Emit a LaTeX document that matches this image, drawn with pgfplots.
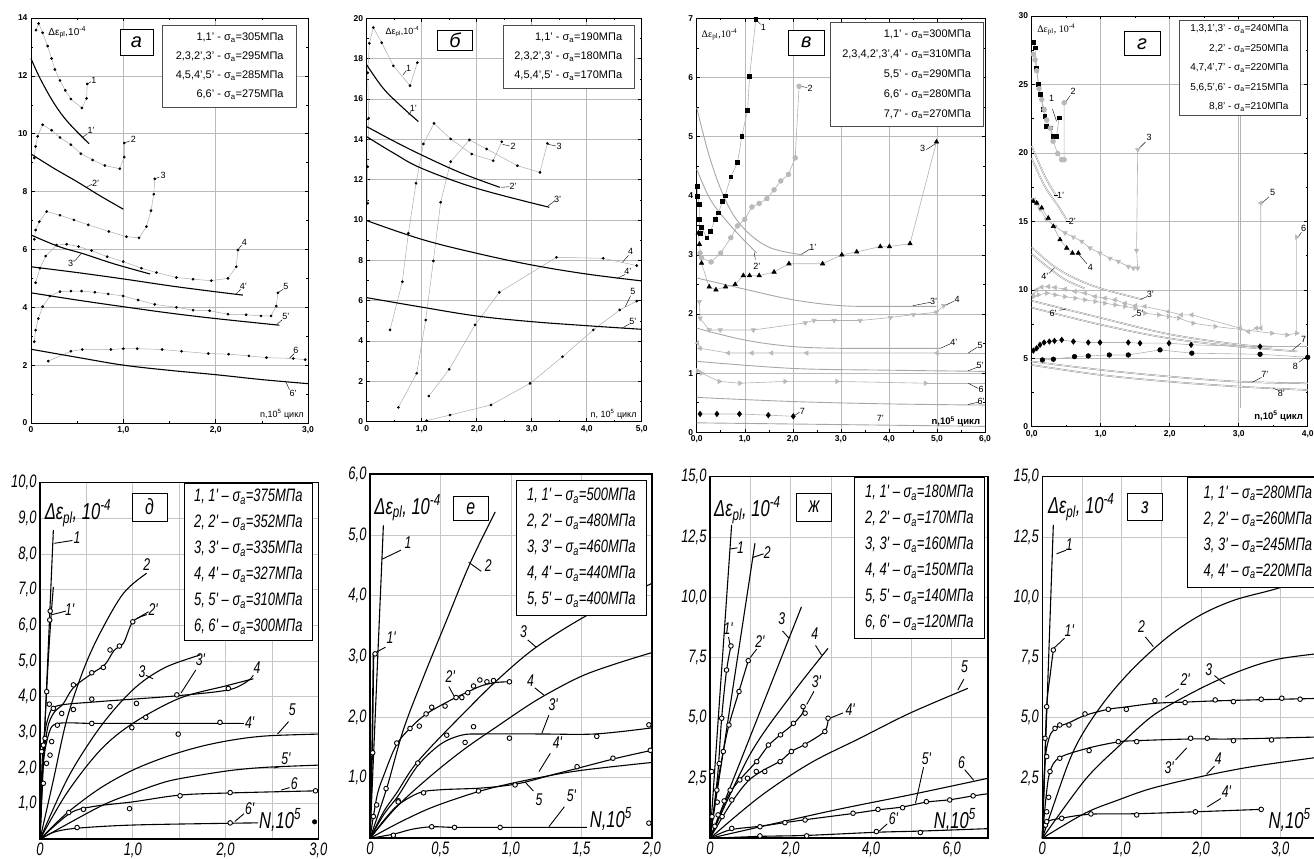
\documentclass[border=0pt]{standalone}
\usepackage{fontspec}
\setmainfont{Liberation Sans}
\newfontfamily\serf{Liberation Serif}
\newfontfamily\gost[FakeStretch=0.72]{Liberation Sans}
\usepackage{pgfplots}
\pgfplotsset{compat=1.18}
\newcommand\tfont{\fontsize{9}{10}\selectfont}
\newcommand\gfont{\gost\itshape\fontsize{18}{20}\selectfont}
\newcommand\glab{\gost\itshape\fontsize{17}{18}\selectfont}
\newcommand\gbig{\gost\itshape\fontsize{23}{25}\selectfont}
\newcommand\sa{σ\textsubscript{a}}
\newcommand\tl[3]{\node[font=\tfont,inner sep=1pt] at (axis cs:#1,#2) {#3};}
\newcommand\bl[3]{\node[font=\glab,inner sep=1pt] at (axis cs:#1,#2) {#3};}
\newcommand\ld[4]{\draw[line width=0.4pt] (axis cs:#1,#2) -- (axis cs:#3,#4);}
\newcommand\bd[4]{\draw[line width=0.9pt] (axis cs:#1,#2) -- (axis cs:#3,#4);}
\pgfplotsset{
 topax/.style={scale only axis, anchor=south west, clip=false,
   axis line style={line width=0.6pt},
   grid=major, major grid style={gray!55,line width=0.5pt},
   tick align=inside, major tick length=3.5pt, minor tick length=2pt,
   every tick/.style={black,line width=0.5pt},
   ticklabel style={font=\fontsize{8.5}{10}\selectfont\bfseries}},
 dl/.style={gray!65, line width=0.5pt, mark=*, mark size=1.1pt, mark options={black,solid}},
 fl/.style={black, line width=1.1pt, smooth, tension=0.6, no markers},
 gl/.style={gray!90, line width=0.45pt, double=white, double distance=0.6pt, smooth, tension=0.6, no markers},
 sl/.style={gray!70, line width=0.9pt, smooth, tension=0.6, no markers},
 cl/.style={gray!60, line width=0.6pt},
 msq/.style={cl, mark=square*, mark size=1.9pt, mark options={black,solid}},
 mci/.style={cl, mark=*, mark size=2.4pt, mark options={fill=gray!55,draw=gray!55,solid}},
 mtu/.style={cl, mark=triangle*, mark size=2.5pt, mark options={black,solid}},
 mtd/.style={cl, mark=triangle*, mark size=2.5pt, mark options={fill=gray!55,draw=gray!55,rotate=180,solid}},
 mtl/.style={cl, mark=triangle*, mark size=2.5pt, mark options={fill=gray!55,draw=gray!55,rotate=90,solid}},
 mtr/.style={cl, mark=triangle*, mark size=2.5pt, mark options={fill=gray!55,draw=gray!55,rotate=-90,solid}},
 mdm/.style={cl, mark=diamond*, mark size=2.7pt, mark options={black,solid}},
 mhx/.style={cl, mark=*, mark size=2.3pt, mark options={black,solid}},
 botax/.style={scale only axis, anchor=south west, clip=false,
   axis line style={line width=1.6pt},
   grid=both, major grid style={gray!45,line width=0.7pt}, minor grid style={gray!45,line width=0.7pt},
   major tick length=0pt, minor tick length=0pt,
   ticklabel style={font=\gfont}},
 bk/.style={black, line width=1.1pt, smooth, tension=0.55, no markers},
 oc/.style={only marks, mark=*, mark size=2.3pt, mark options={fill=white,draw=black,line width=0.9pt}},
}
\begin{document}
\begin{tikzpicture}
%================ а
\begin{axis}[topax, at={(31pt,436pt)}, width=277pt, height=405pt,
  xmin=0,xmax=3,ymin=0,ymax=14, xtick={0,1,2,3}, xticklabels={0,{1,0},{2,0},{3,0}},
  ytick={0,2,4,6,8,10,12,14}, yticklabels={0,2,4,6,8,10,12,14}, minor x tick num=1, minor y tick num=1]
\addplot[dl] coordinates {(0.054,13.58)(0.083,13.81)(0.126,13.49)(0.18,13.03)(0.223,12.6)(0.259,12.22)(0.314,11.84)(0.371,11.5)(0.432,11.2)(0.551,10.89)(0.602,11.22)(0.609,11.72)};
\addplot[fl] coordinates {(0,12.6)(0.1,11.9)(0.25,11.05)(0.4,10.4)(0.63,9.65)};
\addplot[dl] coordinates {(0.036,9.16)(0.05,9.56)(0.072,9.91)(0.126,10.31)(0.223,10.12)(0.314,9.87)(0.432,9.62)(0.54,9.31)(0.667,9.09)(0.8,8.9)(0.962,8.79)(1.01,9.19)(1.01,9.68)};
\addplot[fl] coordinates {(0,9.3)(0.25,8.8)(0.494,8.35)(0.75,7.85)(1.0,7.39)};
\addplot[dl] coordinates {(0.036,6.35)(0.05,6.67)(0.09,6.96)(0.17,7.31)(0.314,7.18)(0.465,7.02)(0.62,6.85)(0.843,6.62)(1.034,6.44)(1.17,6.4)(1.25,6.79)(1.30,7.34)(1.33,7.91)(1.34,8.44)};
\addplot[fl] coordinates {(0,6.5)(0.3,6.1)(0.566,5.85)(0.9,5.5)(1.29,5.15)};
\addplot[dl] coordinates {(0.05,4.85)(0.097,5.35)(0.159,5.77)(0.277,6.15)(0.386,6.18)(0.515,6.1)(0.656,5.96)(0.825,5.75)(0.998,5.58)(1.196,5.35)(1.359,5.2)(1.575,5.03)(1.755,4.97)(1.953,4.92)(2.133,5.0)(2.223,5.4)(2.241,5.98)};
\addplot[fl] coordinates {(0,5.4)(0.5,5.2)(1.0,4.98)(1.6,4.7)(2.295,4.42)};
\addplot[dl] coordinates {(0.036,2.81)(0.05,3.21)(0.079,3.61)(0.126,4.02)(0.205,4.39)(0.314,4.54)(0.432,4.56)(0.548,4.56)(0.692,4.52)(0.836,4.46)(0.998,4.39)(1.16,4.25)(1.34,4.1)(1.575,4.0)(1.755,3.9)(1.935,3.88)(2.133,3.76)(2.33,3.74)(2.49,3.7)(2.60,3.7)(2.656,4.04)(2.674,4.5)};
\addplot[fl] coordinates {(0,4.5)(0.5,4.25)(1.0,4.02)(1.5,3.8)(2.0,3.61)(2.69,3.38)};
\addplot[dl] coordinates {(0.187,2.14)(0.432,2.48)(0.555,2.54)(0.865,2.54)(1.0,2.57)(1.15,2.57)(1.42,2.54)(1.63,2.48)(1.92,2.4)(2.14,2.38)(2.36,2.32)(2.55,2.26)(2.84,2.23)(2.97,2.19)};
\addplot[fl] coordinates {(0,2.55)(0.5,2.27)(1.0,2.0)(1.5,1.82)(2.0,1.67)(2.5,1.5)(3.0,1.36)};
\tl{0.68}{11.85}{1}\ld{0.61}{11.72}{0.65}{11.8}
\tl{0.65}{10.1}{1'}\ld{0.55}{9.85}{0.61}{10.0}
\tl{1.11}{9.8}{2}\ld{1.01}{9.68}{1.07}{9.75}
\tl{0.7}{8.3}{2'}\ld{0.6}{8.15}{0.66}{8.25}
\tl{1.43}{8.55}{3}\ld{1.34}{8.44}{1.39}{8.5}
\tl{0.44}{5.5}{3'}\ld{0.48}{5.62}{0.55}{5.88}
\tl{2.31}{6.25}{4}\ld{2.241}{5.98}{2.28}{6.15}
\tl{2.3}{4.72}{4'}\ld{2.22}{4.45}{2.27}{4.62}
\tl{2.76}{4.72}{5}\ld{2.674}{4.5}{2.73}{4.62}
\tl{2.76}{3.67}{5'}\ld{2.66}{3.4}{2.72}{3.57}
\tl{2.87}{2.52}{6}\ld{2.8}{2.24}{2.85}{2.4}
\tl{2.84}{1.04}{6'}\ld{2.76}{1.42}{2.8}{1.15}
\node[anchor=west,font=\fontsize{10}{10}\selectfont] at (axis cs:0.15,13.5) {Δε\textsubscript{pl},10\textsuperscript{-4}};
\node[anchor=east,font=\fontsize{9}{9}\selectfont] at (axis cs:2.99,0.3) {n,10\textsuperscript{5} цикл};
\node[draw,fill=white,line width=0.6pt,minimum width=33pt,minimum height=26pt,inner sep=0pt,font=\fontsize{20}{20}\selectfont\itshape] at (axis cs:1.143,13.17) {а};
\node[draw=gray!60!black,fill=white,line width=0.5pt,anchor=north east,minimum width=134pt,minimum height=82pt,inner sep=3pt,align=right,font=\fontsize{11}{19}\selectfont] at (axis cs:2.88,13.76) {1,1' - \sa=305МПа\\2,3,2',3' - \sa=295МПа\\4,5,4',5' - \sa=285МПа\\6,6' - \sa=275МПа};
\end{axis}
%================ б
\begin{axis}[topax, at={(366.7pt,437.3pt)}, width=275pt, height=403.4pt,
  xmin=0,xmax=5,ymin=0,ymax=20, xtick={0,1,2,3,4,5}, xticklabels={0,{1,0},{2,0},{3,0},{4,0},{5,0}},
  ytick={0,2,4,6,8,10,12,14,16,18,20}, yticklabels={0,2,4,6,8,10,12,14,16,18,20}, minor x tick num=1, minor y tick num=1]
\addplot[dl] coordinates {(0.018,10.83)(0.018,12.64)(0.036,15.04)(0.018,17.3)(0.048,18.76)(0.121,19.54)(0.273,18.79)(0.485,17.64)(0.788,16.66)(0.921,17.8)};
\addplot[fl] coordinates {(0,17.69)(0.3,16.53)(0.636,15.62)(0.94,14.88)};
\addplot[dl] coordinates {(0.424,4.55)(0.648,6.94)(0.758,9.34)(0.897,11.82)(1.03,13.77)(1.224,14.79)(1.527,14.02)(1.909,13.27)(2.3,12.94)(2.455,13.88)};
\addplot[dl] coordinates {(0.576,0.71)(0.909,2.4)(1.073,5.04)(1.212,7.97)(1.345,10.88)(1.527,12.89)(1.867,13.97)(2.18,13.52)(2.74,12.69)(3.15,12.36)(3.285,13.8)};
\addplot[fl] coordinates {(0,14.63)(0.5,13.9)(1,13.22)(1.7,12.35)(2.42,11.62)};
\addplot[fl] coordinates {(0,14.13)(0.5,13.3)(1,12.56)(2,11.57)(3.32,10.63)};
\addplot[dl] coordinates {(1.13,1.27)(1.5,2.6)(1.97,4.8)(2.41,6.41)(3.45,8.15)(4.3,8.1)(4.91,7.74)};
\addplot[dl] coordinates {(1.09,0.05)(1.515,0.33)(2.26,0.83)(2.97,1.9)(3.56,3.22)(4.12,4.55)(4.6,5.54)(4.91,5.98)};
\addplot[fl] coordinates {(0,9.97)(1,9.04)(2,8.35)(3,7.77)(4,7.32)(5,6.98)};
\addplot[fl] coordinates {(0,6.15)(1,5.68)(2,5.24)(3,4.96)(4,4.76)(5,4.58)};
\tl{0.76}{17.5}{1}\ld{0.66}{17.2}{0.72}{17.4}
\tl{0.85}{15.55}{1'}\ld{0.76}{15.2}{0.81}{15.4}
\tl{2.66}{13.67}{2}\ld{2.47}{13.75}{2.6}{13.67}
\tl{2.66}{11.65}{2'}\ld{2.44}{11.62}{2.6}{11.65}
\tl{3.5}{13.67}{3}\ld{3.3}{13.75}{3.44}{13.67}
\tl{3.47}{11.0}{3'}\ld{3.3}{10.7}{3.42}{10.95}
\tl{4.8}{8.45}{4}\ld{4.65}{7.9}{4.76}{8.25}
\tl{4.75}{7.45}{4'}\ld{4.55}{7.1}{4.7}{7.3}
\tl{4.84}{6.45}{5}\ld{4.7}{5.7}{4.8}{6.25}
\tl{4.84}{4.98}{5'}\ld{4.65}{4.65}{4.78}{4.85}
\node[anchor=west,font=\fontsize{9}{9}\selectfont] at (axis cs:0.28,19.35) {Δε\textsubscript{pl},10\textsuperscript{-4}};
\node[anchor=east,font=\fontsize{9}{9}\selectfont] at (axis cs:4.97,0.35) {n, 10\textsuperscript{5} цикл};
\node[draw,fill=white,line width=0.6pt,minimum width=35pt,minimum height=20pt,inner sep=0pt,font=\fontsize{20}{20}\selectfont\itshape] at (axis cs:1.605,18.92) {б};
\node[draw=gray!60!black,fill=white,line width=0.5pt,anchor=north east,minimum width=131pt,minimum height=63pt,inner sep=3pt,align=right,font=\fontsize{11}{19}\selectfont] at (axis cs:4.86,19.67) {1,1' - \sa=190МПа\\2,3,2',3' - \sa=180МПа\\4,5,4',5' - \sa=170МПа};
\end{axis}
%================ в
\begin{axis}[topax, at={(696.7pt,426.7pt)}, width=288.3pt, height=414pt,
  xmin=0,xmax=6,ymin=0,ymax=7, xtick={0,1,2,3,4,5,6}, xticklabels={{0,0},{1,0},{2,0},{3,0},{4,0},{5,0},{6,0}},
  ytick={0,1,2,3,4,5,6,7}, yticklabels={0,1,2,3,4,5,6,7}, minor x tick num=1, minor y tick num=1]
\addplot[sl] coordinates {(0,5.49)(0.28,4.62)(0.625,3.88)(1.0,3.43)(1.53,3.12)(2.22,3.0)};
\addplot[sl] coordinates {(0,4.45)(0.28,3.94)(0.625,3.57)(0.97,3.26)(1.25,3.03)};
\addplot[sl] coordinates {(0,2.61)(1,2.42)(2.01,2.24)(3.02,2.14)(4.03,2.13)(4.99,2.13)};
\addplot[sl] coordinates {(0,1.76)(1,1.56)(2,1.45)(3,1.42)(4,1.42)(5.07,1.42)};
\addplot[sl] coordinates {(0,1.2)(2,1.08)(4,1.05)(6,1.03)};
\addplot[sl] coordinates {(0,0.59)(2,0.52)(4,0.48)(6,0.46)};
\addplot[sl] coordinates {(0,0.16)(2,0.14)(4,0.12)(6,0.1)};
\addplot[msq] coordinates {(0.02,4.16)(0.02,3.99)(0.056,3.85)(0.056,3.6)(0.07,3.37)(0.1,3.46)(0.21,3.29)(0.29,3.4)(0.38,3.6)(0.45,3.71)(0.54,3.91)(0.59,4.0)(0.71,4.32)(0.85,4.56)(0.94,5.01)(1.06,5.45)(1.1,6.02)(1.23,6.98)};
\addplot[mci] coordinates {(0.07,3.03)(0.1,2.95)(0.3,2.88)(0.5,3.03)(0.71,3.29)(0.85,3.49)(1.0,3.6)(1.15,3.81)(1.3,3.87)(1.46,3.95)(1.61,4.1)(1.75,4.25)(1.91,4.36)(2.05,4.64)(2.13,5.85)};
\addplot[mtu] coordinates {(0.035,3.37)(0.056,3.18)(0.1,2.86)(0.26,2.46)(0.4,2.41)(0.6,2.46)(0.8,2.5)(0.97,2.65)(1.1,2.65)(1.3,2.65)(1.61,2.71)(1.92,2.85)(2.62,2.85)(3.02,3.0)(3.33,3.05)(3.82,3.14)(4.01,3.14)(4.44,3.19)(4.99,4.91)};
\addplot[mtd] coordinates {(0.056,2.21)(0.07,1.93)(0.26,1.73)(0.49,1.73)(1.18,1.73)(2.26,1.85)(2.44,1.89)(2.86,1.89)(3.4,1.89)(4.03,1.94)(4.51,1.99)(4.99,2.03)(5.14,2.14)};
\addplot[cl] coordinates {(5.0,1.34)(6,1.34)};
\addplot[mtl] coordinates {(0.02,1.51)(0.07,1.42)(0.66,1.34)(1.15,1.34)(1.56,1.34)(2.29,1.34)(5.0,1.34)};
\addplot[cl] coordinates {(4.76,0.83)(6,0.83)};
\addplot[mtr] coordinates {(0.02,1.04)(0.1,1.0)(0.47,0.86)(0.9,0.83)(1.84,0.86)(2.92,0.86)(4.76,0.83)};
\addplot[mdm] coordinates {(0.07,0.31)(0.42,0.31)(0.89,0.31)(1.49,0.29)(2.01,0.27)};
\tl{1.39}{6.85}{1}\ld{1.23}{6.98}{1.33}{6.9}
\tl{2.36}{5.82}{2}\ld{2.15}{5.85}{2.3}{5.83}
\tl{4.7}{4.8}{3}\ld{4.78}{4.78}{4.97}{4.88}
\tl{2.42}{3.12}{1'}\ld{2.2}{3.02}{2.36}{3.1}
\tl{1.25}{2.8}{2'}\ld{1.22}{2.92}{1.2}{3.04}
\tl{4.93}{2.21}{3'}\ld{4.5}{2.14}{4.87}{2.2}
\tl{5.42}{2.24}{4}\ld{5.16}{2.14}{5.36}{2.22}
\tl{5.35}{1.52}{4'}\ld{5.07}{1.42}{5.29}{1.5}
\tl{5.9}{1.46}{5}\ld{5.65}{1.34}{5.84}{1.44}
\tl{5.9}{1.13}{5'}\ld{5.65}{1.04}{5.84}{1.1}
\tl{5.92}{0.72}{6}\ld{5.65}{0.83}{5.86}{0.74}
\tl{5.92}{0.52}{6'}\ld{5.65}{0.47}{5.86}{0.51}
\tl{2.2}{0.36}{7}\ld{2.03}{0.28}{2.14}{0.34}
\tl{3.82}{0.24}{7'}
\node[anchor=west,font=\serf\fontsize{10}{10}\selectfont] at (axis cs:0.03,6.72) {Δε\textsubscript{pl},10\textsuperscript{-4}};
\node[anchor=east,font=\fontsize{9.5}{9.5}\selectfont\bfseries] at (axis cs:5.97,0.18) {n,10\textsuperscript{5} цикл};
\node[draw,fill=white,line width=0.6pt,minimum width=36pt,minimum height=25pt,inner sep=0pt,font=\fontsize{20}{20}\selectfont\itshape] at (axis cs:2.28,6.59) {в};
\node[draw=gray!60!black,fill=white,line width=0.5pt,anchor=north east,minimum width=153pt,minimum height=104pt,inner sep=3pt,align=right,font=\fontsize{11}{20}\selectfont] at (axis cs:5.965,6.94) {1,1' - \sa=300МПа\\2,3,4,2',3',4' - \sa=310МПа\\5,5' - \sa=290МПа\\6,6' - \sa=280МПа\\7,7' - \sa=270МПа};
\end{axis}
%================ г
\begin{axis}[topax, at={(1031.7pt,432.3pt)}, width=276pt, height=410.7pt,
  xmin=0,xmax=4,ymin=0,ymax=30, xtick={0,1,2,3,4}, xticklabels={{0,0},{1,0},{2,0},{3,0},{4,0}},
  ytick={0,5,10,15,20,25,30}, yticklabels={0,5,10,15,20,25,30}, minor x tick num=1, minor y tick num=1]
\addplot[cl, line width=0.5pt] coordinates {(3.02,22.77)(3.02,1.4)};
\addplot[gl] coordinates {(0,20.5)(0.19,18.3)(0.36,16.83)};
\addplot[gl] coordinates {(0,19.6)(0.19,17.56)(0.386,16.1)(0.507,15.1)};
\addplot[gl] coordinates {(0,13.1)(0.3,11.8)(0.6,10.9)(1.0,10.1)(1.6,9.3)};
\addplot[gl] coordinates {(0,12.6)(0.3,11.4)(0.5,10.7)(0.77,10.1)};
\addplot[gl] coordinates {(0,9.2)(1,7.95)(2,6.75)(3,6.0)(3.48,5.85)};
\addplot[gl] coordinates {(0,8.7)(1,7.45)(2,6.45)(3,5.85)(3.85,5.5)};
\addplot[gl] coordinates {(0,4.76)(1,4.15)(2,3.66)(3,3.29)(4,3.17)};
\addplot[gl] coordinates {(0,4.51)(1,3.78)(2,3.29)(3,2.93)(4,2.68)};
\addplot[msq] coordinates {(0.024,28.05)(0.048,27.68)(0.072,26.2)(0.097,25.0)(0.12,24.27)(0.17,23.17)(0.19,22.68)(0.217,21.95)(0.266,21.83)(0.314,21.2)(0.36,21.2)(0.396,22.56)};
\addplot[mci] coordinates {(0.024,27.2)(0.048,26.8)(0.072,26.0)(0.106,24.7)(0.145,23.9)(0.18,23.17)(0.217,22.4)(0.27,21.8)(0.31,20.85)(0.377,19.95)(0.435,19.5)(0.47,19.5)(0.47,23.66)};
\addplot[mtd] coordinates {(0.024,16.6)(0.072,16.34)(0.12,15.9)(0.217,15.12)(0.338,14.63)(0.483,14.15)(0.604,13.85)(0.725,13.54)(0.845,13.05)(0.99,12.68)(1.135,12.3)(1.256,12.07)(1.4,11.7)(1.473,11.58)(1.536,11.58)(1.52,12.88)(1.536,20.24)};
\addplot[mtu] coordinates {(0.024,16.46)(0.072,16.34)(0.145,15.98)(0.24,15.24)(0.314,14.63)(0.41,13.66)(0.507,13.05)(0.59,12.68)(0.676,12.68)};
\addplot[mtl] coordinates {(0.024,9.63)(0.072,10.0)(0.145,10.2)(0.24,10.24)(0.338,10.17)(0.483,10.05)(0.628,9.88)(0.773,9.76)(0.918,9.51)(1.063,9.39)(1.208,9.27)(1.353,9.02)(1.5,8.83)(1.64,8.78)(1.98,8.41)(2.17,8.17)(2.32,8.17)(3.02,7.2)(3.14,6.95)(3.26,7.2)(3.32,7.2)(3.32,16.34)};
\addplot[mtr] coordinates {(0.024,9.5)(0.097,9.63)(0.217,9.76)(0.34,9.63)(0.48,9.5)(0.63,9.39)(0.77,9.27)(0.92,9.15)(1.06,9.02)(1.21,8.9)(1.35,8.78)(1.5,8.66)(1.64,8.29)(1.84,8.17)(1.98,8.05)(2.13,7.93)(2.34,7.56)(2.66,7.32)(3.48,6.83)(3.7,6.7)(3.84,6.83)(3.84,13.85)};
\addplot[cl] coordinates {(3.31,5.85)(4.0,5.85)};
\addplot[mdm] coordinates {(0.024,5.56)(0.072,5.73)(0.12,5.98)(0.18,6.15)(0.256,6.22)(0.33,6.27)(0.435,6.34)(0.604,6.22)(0.82,6.15)(0.99,6.15)(1.4,6.15)(1.57,6.1)(1.99,6.1)(2.31,5.98)(3.31,5.85)};
\addplot[mhx] coordinates {(0.155,4.88)(0.314,4.93)(0.62,5.12)(0.82,5.17)(1.125,5.24)(1.4,5.24)(1.86,5.61)(2.32,5.37)(3.31,5.29)(4.0,5.07)};
\tl{0.29}{24.0}{1}\ld{0.3}{23.2}{0.36}{22.3}
\tl{0.6}{24.5}{2}\ld{0.49}{23.7}{0.56}{24.2}
\tl{0.42}{16.9}{1'}\ld{0.33}{16.9}{0.38}{16.9}
\tl{0.59}{15.0}{2'}\ld{0.5}{15.0}{0.55}{15.0}
\tl{1.7}{21.1}{3}\ld{1.55}{20.3}{1.65}{20.8}
\tl{0.85}{11.6}{4}\ld{0.68}{12.6}{0.8}{11.9}
\tl{1.72}{9.63}{3'}\ld{1.58}{9.3}{1.67}{9.5}
\tl{0.19}{10.95}{4'}\ld{0.25}{11.2}{0.33}{11.6}
\tl{3.49}{17.1}{5}\ld{3.34}{16.34}{3.44}{16.8}
\tl{3.94}{14.5}{6}\ld{3.86}{13.85}{3.91}{14.2}
\tl{1.57}{8.3}{5'}\ld{1.45}{8.0}{1.52}{8.2}
\tl{0.31}{8.3}{6'}\ld{0.4}{8.5}{0.5}{8.6}
\tl{3.94}{6.35}{7}\ld{3.78}{5.6}{3.9}{6.1}
\tl{3.82}{4.4}{8}\ld{3.95}{5.0}{3.87}{4.7}
\tl{3.38}{3.8}{7'}\ld{3.2}{3.25}{3.33}{3.6}
\tl{3.62}{2.45}{8'}\ld{3.5}{2.8}{3.58}{2.65}
\node[anchor=west,font=\serf\fontsize{10}{10}\selectfont] at (axis cs:0.03,29.0) {Δε\textsubscript{pl}, 10\textsuperscript{-4}};
\node[anchor=east,font=\fontsize{9.5}{9.5}\selectfont\bfseries] at (axis cs:3.98,0.75) {n,10\textsuperscript{5} цикл};
\node[draw,fill=white,line width=0.6pt,minimum width=36pt,minimum height=24pt,inner sep=0pt,font=\fontsize{20}{20}\selectfont\itshape] at (axis cs:1.6,27.97) {г};
\node[draw=gray!60!black,fill=white,line width=0.5pt,anchor=north east,minimum width=121pt,minimum height=95pt,inner sep=2pt,align=right,font=\fontsize{10}{19.5}\selectfont] at (axis cs:3.89,29.7) {1,3,1',3' - \sa=240МПа\\2,2' - \sa=250МПа\\4,7,4',7' - \sa=220МПа\\5,6,5',6' - \sa=215МПа\\8,8' - \sa=210МПа};
\end{axis}
%================ д
\begin{axis}[botax, at={(40pt,19.7pt)}, width=278.3pt, height=356.6pt,
  xmin=0,xmax=3,ymin=0,ymax=10, xtick={0,1,2,3}, xticklabels={0,{1,0},{2,0},{3,0}}, minor xtick={0.5,1.5,2.5},
  ytick={1,2,3,4,5,6,7,8,9,10}, yticklabels={{1,0},{2,0},{3,0},{4,0},{5,0},{6,0},{7,0},{8,0},{9,0},{10,0}}]
\addplot[bk] coordinates {(0,0)(0.144,8.67)};
\addplot[bk] coordinates {(0,0)(0.04,2.5)(0.08,4.6)(0.115,6.1)(0.144,7.08)};
\addplot[bk] coordinates {(0,0)(0.144,1.66)(0.288,3.35)(0.468,4.75)(0.647,5.78)(0.9,6.9)(1.15,7.46)};
\addplot[bk] coordinates {(0,0)(0.03,2.0)(0.08,3.1)(0.15,3.55)(0.25,3.8)(0.36,4.25)(0.56,4.65)(0.7,4.9)(0.8,5.3)(0.9,5.5)(1.0,6.1)(1.15,6.3)};
\addplot[bk] coordinates {(0,0)(0.288,1.66)(0.576,2.88)(0.827,3.72)(1.08,4.37)(1.367,4.84)(1.727,5.17)};
\addplot[bk] coordinates {(0,0)(0.29,1.3)(0.65,2.5)(1.0,3.25)(1.5,3.95)(2.0,4.3)(2.3,4.5)};
\addplot[bk] coordinates {(0,0)(0.03,2.5)(0.1,3.5)(0.2,3.75)(0.58,3.85)(1.0,3.93)(1.5,4.03)(2.05,4.2)(2.27,4.5)};
\addplot[bk] coordinates {(0,0)(0.03,2.0)(0.1,3.0)(0.2,3.25)(0.558,3.25)(1.0,3.25)(1.94,3.25)(2.16,3.25)};
\addplot[bk] coordinates {(0,0)(0.288,0.73)(0.647,1.43)(1.0,1.94)(1.367,2.32)(1.727,2.6)(2.087,2.79)(2.446,2.9)(3.0,2.95)};
\addplot[bk] coordinates {(0,0)(0.647,0.92)(1.0,1.29)(1.367,1.62)(1.727,1.8)(2.087,1.94)(2.446,2.02)(3.0,2.08)};
\addplot[bk] coordinates {(0,0)(0.324,0.73)(0.576,0.92)(1.0,1.05)(1.51,1.24)(2.05,1.3)(3.0,1.36)};
\addplot[bk] coordinates {(0,0)(0.15,0.2)(0.396,0.31)(1.0,0.4)(2.05,0.45)(2.35,0.46)};
\addplot[oc] coordinates {(0.105,6.15)(0.11,6.4)(0.144,3.67)(0.234,3.53)(0.36,4.33)(0.558,4.67)(0.683,4.82)(0.755,5.31)(0.856,5.42)(1.0,6.1)
 (0.36,3.64)(0.558,3.93)(0.755,3.72)(1.04,3.81)(1.475,4.05)(2.03,4.23)(0.99,3.13)(1.14,3.42)(1.49,2.95)(0.558,3.25)(1.94,3.28)
 (0.31,0.75)(0.468,0.84)(0.965,0.86)(1.51,1.22)(2.05,1.31)(2.97,1.36)(0.4,0.33)(2.05,0.46)
 (0.018,2.46)(0.036,2.64)(0.054,2.83)(0.036,1.57)(0.07,2.13)(0.108,2.36)(0.126,2.74)(0.072,4.14)(0.1,3.79)(0.187,3.2)};
\addplot[only marks, mark=*, mark size=2.3pt, black] coordinates {(2.96,0.49)};
\bl{0.4}{8.45}{1}\bd{0.155}{8.3}{0.35}{8.38}
\bl{0.32}{6.45}{1'}\bd{0.13}{6.3}{0.28}{6.4}
\bl{1.15}{7.7}{2}
\bl{1.22}{6.45}{2'}\bd{1.05}{6.2}{1.17}{6.38}
\bl{1.1}{4.7}{3}\bd{1.14}{4.6}{1.22}{4.5}
\bl{1.73}{5.05}{3'}\bd{1.52}{4.1}{1.68}{4.75}
\bl{2.34}{4.8}{4}\bd{2.27}{4.5}{2.3}{4.6}
\bl{2.26}{3.27}{4'}\bd{2.16}{3.25}{2.2}{3.25}
\bl{2.72}{3.62}{5}\bd{2.56}{2.95}{2.68}{3.3}
\bl{2.65}{2.25}{5'}\bd{2.52}{2.0}{2.61}{2.05}
\bl{2.74}{1.55}{6}\bd{2.6}{1.38}{2.69}{1.45}
\bl{2.26}{0.85}{6'}\bd{2.1}{0.5}{2.2}{0.72}
\node[anchor=west,font=\gbig,inner sep=0pt] at (axis cs:2.36,0.55) {N,10\textsuperscript{5}};
\node[anchor=west,font=\gbig,inner sep=0pt] at (axis cs:0.05,9.15) {Δε\textsubscript{pl}, 10\textsuperscript{-4}};
\node[draw,fill=white,line width=0.7pt,minimum width=35pt,minimum height=28pt,inner sep=0pt,font=\gost\itshape\fontsize{22}{22}\selectfont] at (axis cs:1.18,9.32) {д};
\node[draw,fill=white,line width=0.9pt,anchor=north east,minimum width=128pt,minimum height=157pt,inner sep=3pt,align=left,font=\gost\itshape\fontsize{18}{26}\selectfont] at (axis cs:2.94,9.99) {1, 1' – \sa=375МПа\\2, 2' – \sa=352МПа\\3, 3' – \sa=335МПа\\4, 4' – \sa=327МПа\\5, 5' – \sa=310МПа\\6, 6' – \sa=300МПа};
\end{axis}
%================ е
\begin{axis}[botax, at={(370pt,20.7pt)}, width=281.7pt, height=364pt,
  xmin=0,xmax=2,ymin=0,ymax=6, xtick={0,0.5,1,1.5,2}, xticklabels={0,{0,5},{1,0},{1,5},{2,0}},
  ytick={1,2,3,4,5,6}, yticklabels={{1,0},{2,0},{3,0},{4,0},{5,0},{6,0}}]
\addplot[bk] coordinates {(0,0)(0.095,5.16)};
\addplot[black,line width=1.6pt] coordinates {(0,0)(0.015,1.4)(0.02,2.2)(0.025,3.05)};
\addplot[bk] coordinates {(0,0)(0.118,0.82)(0.237,1.79)(0.38,2.66)(0.545,3.6)(0.71,4.53)(0.889,5.38)};
\addplot[bk] coordinates {(0,0)(0.05,0.7)(0.1,1.05)(0.19,1.55)(0.3,1.85)(0.4,2.05)(0.55,2.25)(0.7,2.42)(0.8,2.52)(0.9,2.57)(1.0,2.58)};
\addplot[bk] coordinates {(0,0)(0.1,0.45)(0.19,0.75)(0.3,1.15)(0.43,1.5)(0.66,2.05)(0.9,2.6)(1.18,3.15)(1.56,3.7)(2.0,4.2)};
\addplot[bk] coordinates {(0,0)(0.19,0.52)(0.427,1.02)(0.664,1.46)(0.9,1.84)(1.185,2.28)(1.49,2.66)(1.75,2.88)(2.0,3.06)};
\addplot[bk] coordinates {(0,0)(0.1,0.4)(0.2,0.7)(0.34,1.2)(0.5,1.55)(0.65,1.7)(0.8,1.72)(1.2,1.72)(1.6,1.72)(2.0,1.82)};
\addplot[bk] coordinates {(0,0)(0.1,0.3)(0.2,0.55)(0.35,0.75)(0.5,0.8)(0.8,0.83)(1.05,0.9)(1.3,1.05)(1.5,1.17)(1.75,1.32)(2.0,1.45)};
\addplot[bk] coordinates {(0,0)(0.2,0.25)(0.43,0.5)(0.7,0.72)(0.9,0.85)(1.2,1.0)(1.5,1.12)(2.0,1.25)};
\addplot[bk] coordinates {(0,0)(0.17,0.07)(0.3,0.15)(0.44,0.19)(0.6,0.18)(0.92,0.18)(1.54,0.18)};
\addplot[oc] coordinates {(0.019,1.41)(0.036,3.04)(0.024,0.36)(0.047,0.55)(0.114,0.82)(0.19,1.57)(0.284,1.81)(0.35,1.85)(0.398,2.05)(0.438,2.16)(0.533,2.18)(0.611,2.32)(0.652,2.32)(0.694,2.4)(0.735,2.51)(0.78,2.61)(0.83,2.58)(0.877,2.6)(0.99,2.58)
 (0.2,0.62)(0.339,1.24)(0.545,1.7)(0.675,1.58)(0.735,1.84)(0.99,1.65)(1.61,1.68)(1.98,1.87)
 (0.2,0.6)(0.38,0.75)(0.77,0.78)(1.03,0.88)(1.47,1.18)(1.725,1.32)(1.99,1.45)
 (0.166,0.05)(0.438,0.19)(0.6,0.18)(0.924,0.18)(1.98,0.25)};
\bl{0.27}{4.88}{1}\bd{0.085}{4.6}{0.22}{4.75}
\bl{0.15}{3.3}{1'}\bd{0.03}{3.05}{0.11}{3.15}
\bl{0.84}{4.5}{2}\bd{0.7}{4.55}{0.79}{4.4}
\bl{0.57}{2.66}{2'}\bd{0.6}{2.33}{0.56}{2.5}
\bl{1.09}{3.4}{3}\bd{1.12}{3.27}{1.18}{3.15}
\bl{1.14}{2.6}{4}\bd{1.17}{2.48}{1.24}{2.35}
\bl{1.3}{2.2}{3'}\bd{1.22}{1.73}{1.27}{2.03}
\bl{1.33}{1.58}{4'}\bd{1.2}{1.1}{1.28}{1.4}
\bl{1.2}{0.64}{5}\bd{1.1}{0.93}{1.16}{0.78}
\bl{1.43}{0.7}{5'}\bd{1.27}{0.19}{1.38}{0.52}
\node[anchor=west,font=\gbig,inner sep=0pt] at (axis cs:1.56,0.32) {N,10\textsuperscript{5}};
\node[anchor=west,font=\gbig,inner sep=0pt] at (axis cs:0.03,5.45) {Δε\textsubscript{pl}, 10\textsuperscript{-4}};
\node[draw,fill=white,line width=0.7pt,minimum width=35pt,minimum height=24pt,inner sep=0pt,font=\gost\itshape\fontsize{22}{22}\selectfont] at (axis cs:0.716,5.44) {е};
\node[draw,fill=white,line width=0.9pt,anchor=north east,minimum width=130pt,minimum height=135pt,inner sep=3pt,align=left,font=\gost\itshape\fontsize{18}{26}\selectfont] at (axis cs:1.965,5.91) {1, 1' – \sa=500МПа\\2, 2' – \sa=480МПа\\3, 3' – \sa=460МПа\\4, 4' – \sa=440МПа\\5, 5' – \sa=400МПа};
\end{axis}
%================ ж
\begin{axis}[botax, at={(710pt,20.7pt)}, width=278pt, height=361.6pt,
  xmin=0,xmax=6.9,ymin=0,ymax=15, xtick={0,2,4,6}, xticklabels={0,{2,0},{4,0},{6,0}}, minor xtick={1,3,5},
  ytick={2.5,5,7.5,10,12.5,15}, yticklabels={{2,5},{5,0},{7,5},{10,0},{12,5},{15,0}}]
\addplot[bk] coordinates {(0,0)(0.537,13.0)};
\addplot[bk] coordinates {(0,0)(1.116,12.24)};
\addplot[bk] coordinates {(0,0)(0.1,1.3)(0.2,2.8)(0.29,5.0)(0.41,6.95)(0.52,7.98)};
\addplot[bk] coordinates {(0,0)(0.1,1.2)(0.2,2.4)(0.33,3.6)(0.47,4.7)(0.72,6.1)(0.95,7.37)};
\addplot[bk] coordinates {(0,0)(2.27,9.6)};
\addplot[bk] coordinates {(0,0)(1.0,3.5)(2.0,5.9)(2.93,7.88)};
\addplot[bk] coordinates {(0,0)(0.3,1.2)(0.5,1.9)(0.75,2.45)(1.16,3.2)(1.45,3.85)(1.75,4.3)(2.07,4.75)(2.3,5.2)(2.33,5.5)};
\addplot[bk] coordinates {(0,0)(0.5,1.4)(0.93,2.35)(1.3,2.8)(1.74,3.2)(2.02,3.6)(2.36,3.9)(2.85,4.45)(2.93,5.0)};
\addplot[bk] coordinates {(0,0)(1.24,1.73)(2.48,3.11)(3.72,4.15)(4.96,5.19)(6.4,6.22)};
\addplot[bk] coordinates {(0,0)(2.9,1.1)(4.96,1.8)(6.9,2.49)};
\addplot[bk] coordinates {(0,0)(0.5,0.35)(1.24,0.5)(1.86,0.65)(2.36,0.77)(3.55,1.03)(4.17,1.18)(4.78,1.3)(5.37,1.5)(5.95,1.6)(6.53,1.76)(6.9,1.85)};
\addplot[bk] coordinates {(0,0)(1.24,0.08)(2.4,0.12)(4.13,0.25)(5.22,0.3)(6.9,0.4)};
\addplot[oc] coordinates {(0.04,2.77)(0.17,2.0)(0.23,3.1)(0.29,4.98)(0.41,6.98)(0.52,7.98)
 (0.18,1.5)(0.33,3.6)(0.47,4.7)(0.72,6.09)(0.95,7.37)
 (0.2,0.97)(0.35,1.55)(0.5,2.0)(0.74,2.42)(1.16,3.18)(1.45,3.87)(1.75,4.29)(2.07,4.77)(2.36,5.19)(2.31,5.46)
 (0.3,0.9)(0.54,1.59)(0.93,2.49)(1.15,2.77)(1.36,2.77)(1.74,3.18)(2.02,3.6)(2.36,3.87)(2.85,4.43)(2.93,4.98)
 (0.54,0.41)(1.24,0.48)(1.86,0.65)(2.36,0.76)(3.55,1.04)(4.17,1.2)(4.78,1.27)(5.37,1.52)(5.95,1.59)(6.53,1.76)
 (1.24,0.1)(2.4,0.1)(4.13,0.28)(5.22,0.24)(0.05,0.9)(0.12,0.5)};
\bl{0.76}{12.05}{1}\bd{0.5}{12.0}{0.68}{12.05}
\bl{1.42}{11.85}{2}\bd{1.06}{11.65}{1.33}{11.8}
\bl{0.45}{8.7}{1'}\bd{0.46}{8.35}{0.5}{8.0}
\bl{1.24}{8.15}{2'}\bd{1.0}{7.5}{1.16}{7.85}
\bl{1.78}{9.1}{3}\bd{1.8}{8.6}{1.96}{8.3}
\bl{2.6}{8.5}{4}\bd{2.62}{8.0}{2.77}{7.6}
\bl{2.64}{6.5}{3'}\bd{2.58}{6.1}{2.4}{5.55}
\bl{3.48}{5.35}{4'}\bd{3.0}{5.0}{3.3}{5.2}
\bl{6.32}{7.1}{5}\bd{6.3}{6.6}{6.15}{6.15}
\bl{6.24}{3.15}{6}\bd{6.32}{2.85}{6.55}{2.4}
\bl{5.37}{3.3}{5'}\bd{5.3}{2.95}{5.1}{1.45}
\bl{4.55}{0.8}{6'}\bd{4.4}{0.6}{4.2}{0.3}
\node[anchor=west,font=\gbig,inner sep=0pt] at (axis cs:5.55,0.75) {N,10\textsuperscript{5}};
\node[anchor=west,font=\gbig,inner sep=0pt] at (axis cs:0.1,13.6) {Δε\textsubscript{pl}, 10\textsuperscript{-4}};
\node[draw,fill=white,line width=0.7pt,minimum width=35pt,minimum height=28pt,inner sep=0pt,font=\gost\itshape\fontsize{22}{22}\selectfont] at (axis cs:2.585,13.74) {ж};
\node[draw,fill=white,line width=0.9pt,anchor=north east,minimum width=130pt,minimum height=161pt,inner sep=3pt,align=left,font=\gost\itshape\fontsize{18}{26}\selectfont] at (axis cs:6.82,15.0) {1, 1' – \sa=180МПа\\2, 2' – \sa=170МПа\\3, 3' – \sa=160МПа\\4, 4' – \sa=150МПа\\5, 5' – \sa=140МПа\\6, 6' – \sa=120МПа};
\end{axis}
%================ з
\begin{axis}[botax, at={(1042.3pt,20.7pt)}, width=277.6pt, height=361.6pt,
  xmin=0,xmax=3.5,ymin=0,ymax=15, xtick={0,1,2,3}, xticklabels={0,{1,0},{2,0},{3,0}}, minor xtick={0.5,1.5,2.5,3.5},
  ytick={2.5,5,7.5,10,12.5,15}, yticklabels={{2,5},{5,0},{7,5},{10,0},{12,5},{15,0}}]
\addplot[bk] coordinates {(0,0)(0.139,13.0)};
\addplot[bk] coordinates {(0,0)(0.03,3)(0.055,5.46)(0.1,6.8)(0.139,7.81)};
\addplot[bk] coordinates {(0,0)(0.328,3.11)(0.538,4.5)(0.832,5.88)(1.168,7.12)(1.588,8.37)(2.0,9.27)(2.43,9.89)(2.97,10.37)(3.42,10.9)};
\addplot[bk] coordinates {(0,0)(0.538,2.42)(0.958,3.8)(1.378,5.05)(1.8,5.88)(2.22,6.57)(2.64,7.12)(3.0,7.45)(3.45,7.65)};
\addplot[bk] coordinates {(0,0)(0.03,3.0)(0.08,4.1)(0.16,4.55)(0.34,4.8)(0.54,5.1)(0.83,5.35)(1.06,5.45)(1.42,5.6)(1.8,5.65)(2.18,5.7)(2.76,5.75)(3.45,5.8)};
\addplot[bk] coordinates {(0,0)(0.05,1.8)(0.1,2.8)(0.22,3.35)(0.59,3.75)(0.96,4.0)(1.19,4.05)(1.87,4.12)(2.41,4.12)(3.45,4.2)};
\addplot[bk] coordinates {(0,0)(0.538,1.04)(0.958,1.59)(1.378,2.07)(2.0,2.56)(2.64,2.97)(3.45,3.35)};
\addplot[bk] coordinates {(0,0)(0.05,0.65)(0.24,0.83)(0.61,1.0)(1.19,1.02)(1.93,1.1)(2.76,1.2)};
\addplot[oc] coordinates {(0.055,5.46)(0.139,7.81)(0.034,4.15)(0.055,3.39)(0.055,1.1)(0.08,1.7)(0.04,0.55)
 (0.16,4.56)(0.22,4.7)(0.336,4.7)(0.538,5.16)(0.832,5.35)(1.06,5.35)(1.42,5.71)(1.8,5.63)(2.18,5.74)(2.41,5.67)(2.76,5.77)(3.02,5.81)(3.25,5.77)
 (0.097,2.77)(0.22,3.32)(0.59,3.64)(0.958,4.01)(1.19,4.01)(1.87,4.15)(2.08,4.15)(2.41,4.05)(2.89,4.08)
 (0.055,0.69)(0.244,0.83)(0.613,1.01)(1.19,0.97)(1.93,1.1)(2.76,1.2)};
\bl{0.34}{12.2}{1}\bd{0.18}{11.8}{0.3}{11.95}
\bl{0.34}{8.6}{1'}\bd{0.15}{7.9}{0.28}{8.3}
\bl{1.25}{8.8}{2}\bd{1.3}{8.35}{1.4}{7.95}
\bl{1.8}{6.6}{2'}\bd{1.55}{5.85}{1.72}{6.2}
\bl{2.1}{7.0}{3}\bd{2.17}{6.75}{2.3}{6.4}
\bl{1.6}{2.95}{3'}\bd{1.68}{3.25}{1.82}{3.75}
\bl{2.22}{3.3}{4}\bd{2.17}{3.0}{2.07}{2.65}
\bl{2.32}{1.95}{4'}\bd{2.25}{1.65}{2.08}{1.3}
\node[anchor=west,font=\gbig,inner sep=0pt] at (axis cs:2.85,0.75) {N,10\textsuperscript{5}};
\node[anchor=west,font=\gbig,inner sep=0pt] at (axis cs:0.07,13.75) {Δε\textsubscript{pl}, 10\textsuperscript{-4}};
\node[draw,fill=white,line width=0.7pt,minimum width=35pt,minimum height=27pt,inner sep=0pt,font=\gost\itshape\fontsize{22}{22}\selectfont] at (axis cs:1.295,13.73) {з};
\node[draw,fill=white,line width=0.9pt,anchor=north west,minimum width=140pt,minimum height=110pt,inner sep=2pt,align=left,font=\gost\itshape\fontsize{18}{26}\selectfont] at (axis cs:1.83,15.0) {1, 1' – \sa=280МПа\\2, 2' – \sa=260МПа\\3, 3' – \sa=245МПа\\4, 4' – \sa=220МПа};
\end{axis}
\pgfresetboundingbox
\path[use as bounding box] (0pt,0pt) rectangle (1314pt,859pt);
\end{tikzpicture}
\end{document}
